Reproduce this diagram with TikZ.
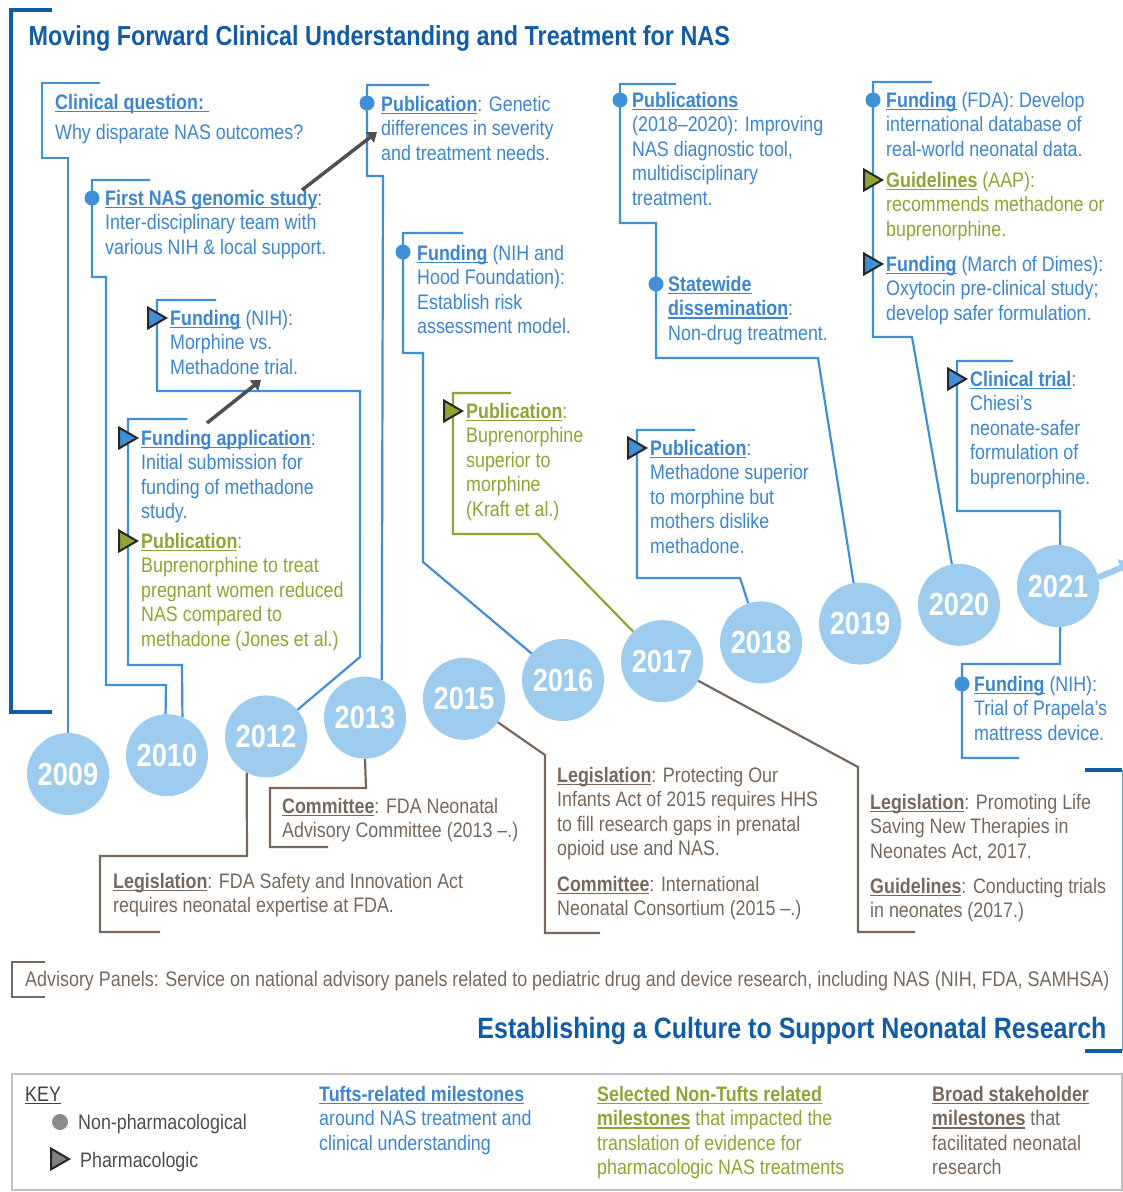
\documentclass[tikz,border=0pt]{standalone}
\usepackage{fontspec}
\setmainfont{Liberation Sans}[FakeStretch=0.85]
\usetikzlibrary{shapes.geometric,arrows.meta}

\definecolor{tuftstext}{RGB}{59,134,206}
\definecolor{tuftsline}{RGB}{64,144,215}
\definecolor{nontuftsc}{RGB}{141,165,52}
\definecolor{broadc}{RGB}{120,104,92}
\definecolor{darkblue}{RGB}{17,92,164}
\definecolor{yearfill}{RGB}{158,204,238}
\definecolor{arrowgray}{RGB}{80,80,80}
\definecolor{keygray}{RGB}{192,192,192}

\newcommand\hd[1]{\setbox0\hbox{\bfseries #1}\rlap{\rule[-3pt]{\wd0}{1.2pt}}\box0\relax}
\newcommand\ml[1]{\begin{tabular}[t]{@{}l@{}}#1\end{tabular}}

\begin{document}
\begin{tikzpicture}[x=1pt,y=-1pt]
\tikzstyle{year}     = [circle, fill=yearfill, minimum size=82pt, inner sep=0, text=white, font=\fontsize{32}{32}\selectfont\bfseries]
\tikzstyle{tufts}    = [draw=tuftsline, line width=2.2pt]
\tikzstyle{nontufts} = [draw=nontuftsc, line width=2.2pt]
\tikzstyle{broad}    = [draw=broadc, line width=2.2pt]
\tikzstyle{frame}    = [draw=darkblue, line width=3.2pt]
\tikzstyle{txt}      = [anchor=base west, inner sep=0, font=\fontsize{21}{24.6}\selectfont]
\tikzstyle{nonpharm} = [circle, fill=tuftsline, minimum size=15pt, inner sep=0]
\tikzstyle{pharm}    = [regular polygon, regular polygon sides=3, shape border rotate=-90, minimum size=24pt, inner sep=0, draw=black!85, line width=2pt]
\tikzstyle{link}     = [draw=arrowgray, line width=3.5pt, -{Triangle[length=9pt,width=13pt]}]
\tikzstyle{heading}  = [text=darkblue, font=\fontsize{27.5}{28}\selectfont\bfseries]

\useasboundingbox (0,0) rectangle (1123,1192);

\node (title) [heading, anchor=base west] at (25,45) {Moving Forward Clinical Understanding and Treatment for NAS};
\draw [frame] (52,10) -- (11,10) -- (11,712) -- (52,712);

\foreach \yr [count=\i from 0] in {2009,2010,2012,2013,2015,2016,2017,2018,2019,2020,2021}
  \node (y\yr) [year] at (68+99*\i, 774-18.8*\i) {\yr};

\coordinate (next) at (1132,563);
\draw [draw=yearfill, line width=6pt, -{Triangle[length=12pt,width=18pt]}] (y2021.12) -- (next);

\draw [tufts]    (100,83) -- (42,83) -- (42,158) -- (68,158) -- (y2009);
\draw [tufts]    (150,180) -- (92,180) -- (92,277) -- (106,277) -- (106,685) -- (166,685) -- (y2010.92);
\draw [tufts]    (216,300) -- (157,300) -- (157,391) -- (360,391) -- (360,657) -- (y2012);
\draw [tufts]    (187,419) -- (128,419) -- (128,665) -- (182,665) -- (y2010.68);
\draw [tufts]    (429,85) -- (367,85) -- (367,176) -- (383,176) -- (y2013.66);
\draw [tufts]    (463,233) -- (403,233) -- (403,353) -- (423,353) -- (423,562) -- (y2016);
\draw [nontufts] (511,393) -- (453,393) -- (453,534) -- (538,534) -- (y2017);
\draw [tufts]    (695,430) -- (637,430) -- (637,578) -- (740,578) -- (y2018);
\draw [tufts]    (676,84) -- (620,84) -- (620,223) -- (656,223) -- (656,358) -- (818,358) -- (y2019);
\draw [tufts]    (932,82) -- (873,82) -- (873,337) -- (912,337) -- (y2020);
\draw [tufts]    (1013,361) -- (957,361) -- (957,511) -- (1060,511) -- (y2021.87);
\draw [tufts]    (y2021.273) -- (1060,664) -- (962,664) -- (962,758) -- (1019,758);

\draw [broad] (y2012.242) -- (247,856) -- (100,856) -- (100,932) -- (160,932);
\draw [broad] (y2013.south) -- (366,788) -- (270,788) -- (270,847) -- (328,847);
\draw [broad] (y2015) -- (545,755) -- (545,933) -- (600,933);
\draw [broad] (y2017) -- (858,767) -- (858,932) -- (915,932);

\node (cq) [txt, text=tuftstext] at (55,109) {\ml{\hd{Clinical question:~}\\[5.4pt]Why disparate NAS outcomes?}};

\node (m1) [nonpharm] at (92,198) {};
\node (genomic) [txt, text=tuftstext] at (105,205) {\ml{\hd{First NAS genomic study}:\\Inter-disciplinary team with\\various NIH \& local support.}};

\node (m2) [pharm, fill=tuftsline] at (154,318) {};
\node (morphine) [txt, text=tuftstext] at (170,325) {\ml{\hd{Funding} (NIH):\\Morphine vs.\\Methadone trial.}};

\node (m3) [pharm, fill=tuftsline] at (125,438) {};
\node (fapp) [txt, text=tuftstext] at (141,445) {\ml{\hd{Funding application}:\\Initial submission for\\funding of methadone\\study.}};
\node (m4) [pharm, fill=nontuftsc] at (125,541) {};
\node (jones) [txt, text=nontuftsc] at (141,548) {\ml{\hd{Publication}:\\Buprenorphine to treat\\pregnant women reduced\\NAS compared to\\methadone (Jones et al.)}};

\node (m5) [nonpharm] at (367,103) {};
\node (genetic) [txt, text=tuftstext] at (381,111) {\ml{\hd{Publication}: Genetic\\differences in severity\\and treatment needs.}};

\coordinate (a1s) at (207,423);
\coordinate (a1e) at (261,380);
\coordinate (a2s) at (302,190);
\coordinate (a2e) at (377,132);
\draw [link] (a1s) -- (a1e);
\draw [link] (a2s) -- (a2e);

\node (m6) [nonpharm] at (403,252) {};
\node (hood) [txt, text=tuftstext] at (417,260) {\ml{\hd{Funding} (NIH and\\Hood Foundation):\\Establish risk\\assessment model.}};

\node (m7) [pharm, fill=nontuftsc] at (450,411) {};
\node (kraft) [txt, text=nontuftsc] at (466,418) {\ml{\hd{Publication}:\\Buprenorphine\\superior to\\morphine\\(Kraft et al.)}};

\node (m8) [pharm, fill=tuftsline] at (634,448) {};
\node (methadone) [txt, text=tuftstext] at (650,455) {\ml{\hd{Publication}:\\Methadone superior\\to morphine but\\mothers dislike\\methadone.}};

\node (m9) [nonpharm] at (620,100) {};
\node (diagtool) [txt, text=tuftstext] at (632,107) {\ml{\hd{Publications}\\(2018–2020): Improving\\NAS diagnostic tool,\\multidisciplinary\\treatment.}};
\node (m10) [nonpharm] at (656,284) {};
\node (statewide) [txt, text=tuftstext] at (668,291) {\ml{\hd{Statewide}\\\hd{dissemination}:\\Non-drug treatment.}};

\node (m11) [nonpharm] at (873,100) {};
\node (fda) [txt, text=tuftstext] at (886,107) {\ml{\hd{Funding} (FDA): Develop\\international database of\\real-world neonatal data.}};
\node (m12) [pharm, fill=nontuftsc] at (870,180) {};
\node (aap) [txt, text=nontuftsc] at (886,187) {\ml{\hd{Guidelines} (AAP):\\recommends methadone or\\buprenorphine.}};
\node (m13) [pharm, fill=tuftsline] at (870,264) {};
\node (dimes) [txt, text=tuftstext] at (886,271) {\ml{\hd{Funding} (March of Dimes):\\Oxytocin pre-clinical study;\\develop safer formulation.}};

\node (m14) [pharm, fill=tuftsline] at (954,379) {};
\node (chiesi) [txt, text=tuftstext] at (970,386) {\ml{\hd{Clinical trial}:\\Chiesi’s\\neonate-safer\\formulation of\\buprenorphine.}};

\node (m15) [nonpharm] at (962,684) {};
\node (prapela) [txt, text=tuftstext] at (974,691) {\ml{\hd{Funding} (NIH):\\Trial of Prapela’s\\mattress device.}};

\node (fdasia) [txt, text=broadc] at (113,888) {\ml{\hd{Legislation}: FDA Safety and Innovation Act\\requires neonatal expertise at FDA.}};
\node (fdacom) [txt, text=broadc] at (282,813) {\ml{\hd{Committee}: FDA Neonatal\\Advisory Committee (2013 –.)}};
\node (poia) [txt, text=broadc] at (557,782) {\ml{\hd{Legislation}: Protecting Our\\Infants Act of 2015 requires HHS\\to fill research gaps in prenatal\\opioid use and NAS.}};
\node (inc) [txt, text=broadc] at (557,891) {\ml{\hd{Committee}: International\\Neonatal Consortium (2015 –.)}};
\node (plsnt) [txt, text=broadc] at (870,809) {\ml{\hd{Legislation}: Promoting Life\\Saving New Therapies in\\Neonates Act, 2017.}};
\node (trials) [txt, text=broadc] at (870,893) {\ml{\hd{Guidelines}: Conducting trials\\in neonates (2017.)}};

\draw [broad] (45,962) -- (12,962) -- (12,997) -- (45,997);
\node (panels) [txt, text=broadc, font=\fontsize{21.1}{24}\selectfont] at (25,986) {Advisory Panels: Service on national advisory panels related to pediatric drug and device research, including NAS (NIH, FDA, SAMHSA)};

\node (culture) [heading, anchor=base east, font=\fontsize{29.4}{30}\selectfont\bfseries] at (1110,1038) {Establishing a Culture to Support Neonatal Research};
\draw [frame] (1085,770) -- (1122,770);
\draw [frame] (1085,1051) -- (1122,1051);
\draw [draw=darkblue!60, line width=1pt] (1122,770) -- (1122,1051);

\draw [draw=keygray, line width=2.5pt] (12,1074) rectangle (1122,1190);
\node (key) [txt, text=black!75] at (25,1101) {\setbox0\hbox{KEY}\rlap{\rule[-3pt]{\wd0}{1.2pt}}\box0\relax};
\node (k1) [circle, fill=black!45, minimum size=16pt, inner sep=0] at (60,1122) {};
\node (k1t) [txt, text=black!70] at (78,1129) {Non-pharmacological};
\node (k2) [pharm, fill=black!50] at (57,1159) {};
\node (k2t) [txt, text=black!70] at (80,1167) {Pharmacologic};
\node (ktufts) [txt, text=tuftstext] at (319,1101) {\ml{\hd{Tufts-related milestones}\\around NAS treatment and\\clinical understanding}};
\node (knon) [txt, text=nontuftsc] at (597,1101) {\ml{\hd{Selected Non-Tufts related}\\\hd{milestones} that impacted the\\translation of evidence for\\pharmacologic NAS treatments}};
\node (kbroad) [txt, text=broadc] at (932,1101) {\ml{\hd{Broad stakeholder}\\\hd{milestones} that\\facilitated neonatal\\research}};
\end{tikzpicture}
\end{document}
